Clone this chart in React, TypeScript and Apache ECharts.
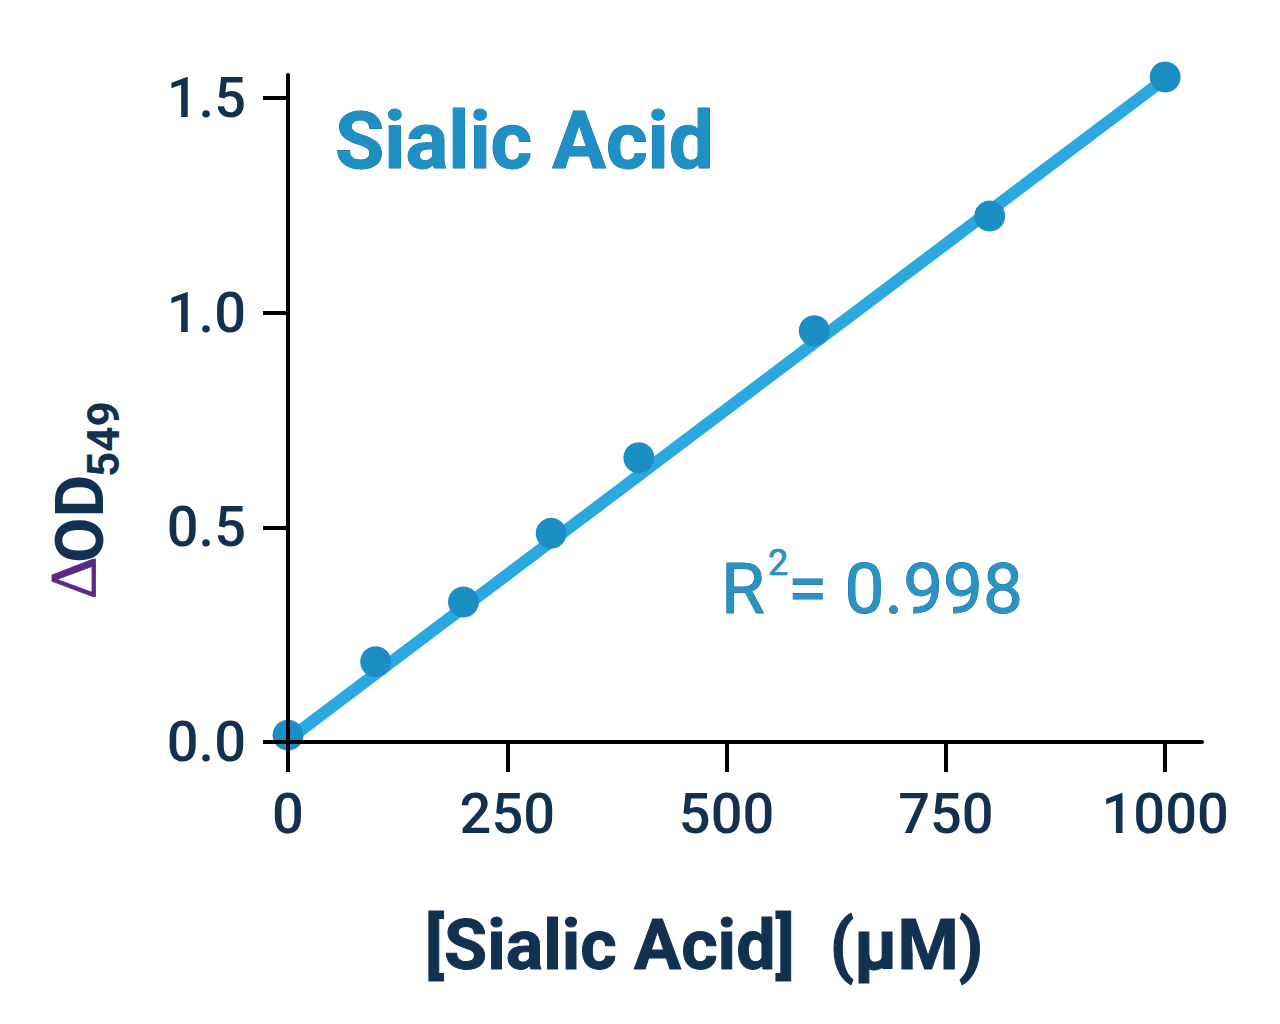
import React, { useEffect, useRef } from "react";
import * as echarts from "echarts";

const concentrations = [0, 100, 200, 300, 400, 600, 800, 1000];
const deltaOD = [0.016, 0.187, 0.326, 0.486, 0.662, 0.958, 1.225, 1.549];
const fitX = [0, 1000];
const fitY = [0.005, 1.545];
const xTicks = [0, 250, 500, 750, 1000];
const yTicks = [0, 0.5, 1.0, 1.5];
const chartTitle = "Sialic Acid";
const r2Value = "0.998";
const xName = "[Sialic Acid]  (μM)";

const NAVY = "#12304f";

export default function App() {
  const ref = useRef<HTMLDivElement>(null);
  useEffect(() => {
    if (!ref.current) return;
    const chart = echarts.init(ref.current, undefined, { renderer: "svg" });
    const rot = Math.PI / 2;
    chart.setOption({
      animation: false,
      backgroundColor: "#ffffff",
      grid: { left: 288, right: 78, top: 75, bottom: 282, containLabel: false },
      xAxis: {
        type: "value",
        min: 0,
        max: 1042,
        z: 10,
        axisLine: { show: true, onZero: false, lineStyle: { color: "#000", width: 4 } },
        axisTick: { show: true, customValues: xTicks, length: 30, lineStyle: { color: "#000", width: 4 } },
        axisLabel: {
          customValues: xTicks,
          margin: 44,
          color: NAVY,
          fontSize: 56,
          fontFamily: "Roboto",
          fontWeight: 500,
          formatter: (v: number) => String(v),
        },
        splitLine: { show: false },
      },
      yAxis: {
        type: "value",
        min: 0,
        max: 1.5536,
        z: 10,
        axisLine: { show: true, onZero: false, lineStyle: { color: "#000", width: 4 } },
        axisTick: { show: true, customValues: yTicks, length: 25, lineStyle: { color: "#000", width: 4 } },
        axisLabel: {
          customValues: yTicks,
          margin: 42,
          color: NAVY,
          fontSize: 56,
          fontFamily: "Roboto",
          fontWeight: 500,
          formatter: (v: number) => v.toFixed(1),
        },
        splitLine: { show: false },
      },
      series: [
        {
          type: "line",
          data: fitX.map((x, i) => [x, fitY[i]]),
          symbol: "none",
          clip: false,
          lineStyle: { color: "#2aa8df", width: 12 },
          z: 2,
        },
        {
          type: "scatter",
          data: concentrations.map((x, i) => [x, deltaOD[i]]),
          symbol: "circle",
          symbolSize: 31,
          clip: false,
          itemStyle: { color: "#1b8fc4", opacity: 1 },
          z: 3,
        },
      ],
      graphic: [
        {
          type: "text",
          x: 335,
          y: 141,
          style: {
            text: chartTitle,
            font: "bold 80px Roboto",
            fill: "#1e90c4",
            stroke: "#1a6f9c",
            lineWidth: 1,
            textAlign: "left",
            textVerticalAlign: "middle",
          },
        },
        {
          type: "text",
          x: 721,
          y: 588,
          style: {
            text: "R",
            font: "71px Roboto",
            fill: "#2a93c4",
            stroke: "#1a6f9c",
            lineWidth: 1,
            textAlign: "left",
            textVerticalAlign: "middle",
          },
        },
        {
          type: "text",
          x: 768,
          y: 563,
          style: {
            text: "2",
            font: "36px Roboto",
            fill: "#2a93c4",
            stroke: "#1a6f9c",
            lineWidth: 0.7,
            textAlign: "left",
            textVerticalAlign: "middle",
          },
        },
        {
          type: "text",
          x: 788,
          y: 588,
          style: {
            text: "= " + r2Value,
            font: "71px Roboto",
            fill: "#2a93c4",
            stroke: "#1a6f9c",
            lineWidth: 1,
            textAlign: "left",
            textVerticalAlign: "middle",
          },
        },
        {
          type: "text",
          x: 704,
          y: 945,
          style: {
            text: xName,
            font: "bold 70px Roboto",
            fill: NAVY,
            stroke: NAVY,
            lineWidth: 1,
            textAlign: "center",
            textVerticalAlign: "middle",
          },
        },
        {
          type: "text",
          x: 72,
          y: 599,
          rotation: rot,
          style: {
            text: "Δ",
            font: "66px 'Liberation Serif'",
            fill: "#5b2a86",
            stroke: "#5b2a86",
            lineWidth: 0.8,
            textAlign: "left",
            textVerticalAlign: "middle",
          },
        },
        {
          type: "text",
          x: 80,
          y: 563,
          rotation: rot,
          style: {
            text: "OD",
            font: "bold 66px Roboto",
            fill: NAVY,
            textAlign: "left",
            textVerticalAlign: "middle",
          },
        },
        {
          type: "text",
          x: 104,
          y: 477,
          rotation: rot,
          style: {
            text: "549",
            font: "bold 44px Roboto",
            fill: NAVY,
            textAlign: "left",
            textVerticalAlign: "middle",
          },
        },
      ],
    });
    return () => chart.dispose();
  }, []);
  return (
    <div
      ref={ref}
      style={{ position: "fixed", left: 0, top: 0, width: 1280, height: 1024 }}
    />
  );
}
